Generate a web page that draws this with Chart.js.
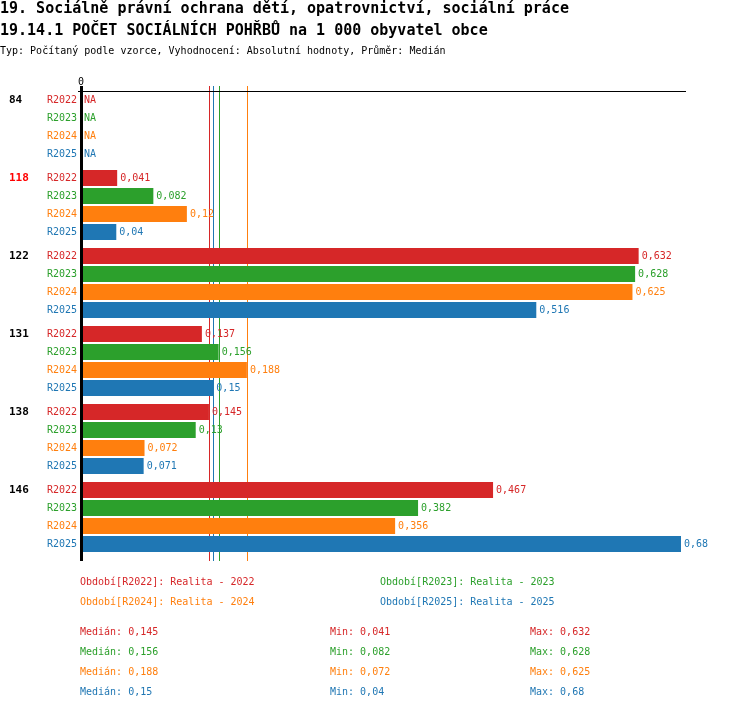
<!DOCTYPE html>
<html>
<head>
<meta charset="utf-8">
<script src="https://cdn.jsdelivr.net/npm/chart.js@4/dist/chart.umd.min.js"></script>
<style>
  body { margin: 0; background: #fff; font-family: "DejaVu Sans Mono", monospace; }
  #wrap { position: absolute; left: 0; top: 0; width: 750px; height: 710px; }
  .t { position: absolute; left: 0; white-space: pre; line-height: 1; }
  .h1 { font-size: 15px; font-weight: bold; }
  .sub { font-size: 10px; }
  .lg { position: absolute; font-size: 10px; white-space: pre; line-height: 1; }
</style>
</head>
<body>
<div id="wrap"><canvas id="myChart" width="750" height="710"></canvas></div>
<div class="t h1" style="top:1px">19. Sociálně právní ochrana dětí, opatrovnictví, sociální práce</div>
<div class="t h1" style="top:23px">19.14.1 POČET SOCIÁLNÍCH POHŘBŮ na 1 000 obyvatel obce</div>
<div class="t sub" style="top:46px">Typ: Počítaný podle vzorce, Vyhodnocení: Absolutní hodnoty, Průměr: Medián</div>
<div id="legend"></div>
<script>
// data
const groups = ['84', '118', '122', '131', '138', '146'];
const highlighted = '118';
const periods = ['R2022', 'R2023', 'R2024', 'R2025'];
const periodNames = ['Realita - 2022', 'Realita - 2023', 'Realita - 2024', 'Realita - 2025'];
const colors = ['#d62728', '#2ca02c', '#ff7f0e', '#1f77b4'];
const v2022 = [null, 0.041, 0.632, 0.137, 0.145, 0.467];
const v2023 = [null, 0.082, 0.628, 0.156, 0.13, 0.382];
const v2024 = [null, 0.12, 0.625, 0.188, 0.072, 0.356];
const v2025 = [null, 0.04, 0.516, 0.15, 0.071, 0.68];
const series = [v2022, v2023, v2024, v2025];
const xTicks = [0];

const fmt = v => String(v).replace('.', ',');
const median = arr => {
  const s = arr.filter(v => v !== null).sort((a, b) => a - b);
  const m = Math.floor(s.length / 2);
  return s.length % 2 ? s[m] : (s[m - 1] + s[m]) / 2;
};
const medians = series.map(median);
const mins = series.map(a => Math.min(...a.filter(v => v !== null)));
const maxs = series.map(a => Math.max(...a.filter(v => v !== null)));
const allMax = Math.max(...maxs);

const mono = '"DejaVu Sans Mono", monospace';

// median lines behind bars, axis lines and labels on top
const decorations = {
  id: 'decorations',
  beforeDatasetsDraw(chart) {
    const { ctx, chartArea, scales } = chart;
    ctx.save();
    medians.forEach((m, i) => {
      const x = Math.round(scales.x.getPixelForValue(m));
      ctx.fillStyle = colors[i];
      ctx.fillRect(x, chartArea.top - 2, 1, chartArea.bottom - chartArea.top + 7);
    });
    ctx.restore();
  },
  afterDatasetsDraw(chart) {
    const { ctx, chartArea, scales } = chart;
    ctx.save();
    // top line
    ctx.fillStyle = '#000';
    ctx.fillRect(chartArea.left - 3, chartArea.top + 3, chartArea.right - chartArea.left + 8, 1);
    // left axis
    ctx.fillRect(chartArea.left - 1, chartArea.top - 2, 3, chartArea.bottom - chartArea.top + 7);

    ctx.textBaseline = 'middle';
    series.forEach((data, i) => {
      const meta = chart.getDatasetMeta(i);
      meta.data.forEach((bar, j) => {
        const y = bar.y;
        ctx.font = '10px ' + mono;
        ctx.fillStyle = colors[i];
        ctx.textAlign = 'right';
        ctx.fillText(periods[i], chartArea.left - 4, y);
        ctx.textAlign = 'left';
        const v = data[j];
        if (v === null) {
          ctx.fillText('NA', chartArea.left + 3, y);
        } else {
          ctx.fillText(fmt(v), scales.x.getPixelForValue(v) + 3, y);
        }
        if (i === 0) {
          ctx.font = 'bold 11px ' + mono;
          ctx.fillStyle = groups[j] === highlighted ? '#ff0000' : '#000';
          ctx.fillText(groups[j], 9, y);
        }
      });
    });
    ctx.restore();
  }
};

const config = {
  type: 'bar',
  data: {
    labels: groups,
    datasets: series.map((d, i) => ({
      label: periods[i],
      data: d,
      backgroundColor: colors[i],
      borderWidth: 0,
      categoryPercentage: 72 / 78,
      barPercentage: 16 / 18
    }))
  },
  options: {
    indexAxis: 'y',
    responsive: false,
    animation: false,
    layout: { padding: { top: 60, right: 69, bottom: 154, left: 0 } },
    plugins: {
      legend: { display: false },
      tooltip: { enabled: false }
    },
    scales: {
      x: {
        type: 'linear',
        position: 'top',
        min: 0,
        max: allMax,
        grid: { display: false },
        border: { display: false },
        afterBuildTicks(scale) { scale.ticks = xTicks.map(v => ({ value: v })); },
        afterFit(scale) { scale.height = 28; },
        ticks: {
          color: '#000',
          font: { family: mono, size: 10 },
          padding: -8,
          callback: v => fmt(v)
        }
      },
      y: {
        grid: { display: false },
        border: { display: false },
        ticks: { display: false },
        afterFit(scale) { scale.width = 81; }
      }
    }
  },
  plugins: [decorations]
};

const myChart = new Chart(document.getElementById('myChart'), config);

// legend and statistics as text
const legend = document.getElementById('legend');
const addText = (txt, x, y, color) => {
  const d = document.createElement('div');
  d.className = 'lg';
  d.style.left = x + 'px';
  d.style.top = y + 'px';
  d.style.color = color;
  d.textContent = txt;
  legend.appendChild(d);
};
periods.forEach((p, i) => {
  addText('Období[' + p + ']: ' + periodNames[i], i % 2 ? 380 : 80, 577 + Math.floor(i / 2) * 20, colors[i]);
  const y = 627 + i * 20;
  addText('Medián: ' + fmt(medians[i]), 80, y, colors[i]);
  addText('Min: ' + fmt(mins[i]), 330, y, colors[i]);
  addText('Max: ' + fmt(maxs[i]), 530, y, colors[i]);
});
</script>
</body>
</html>
